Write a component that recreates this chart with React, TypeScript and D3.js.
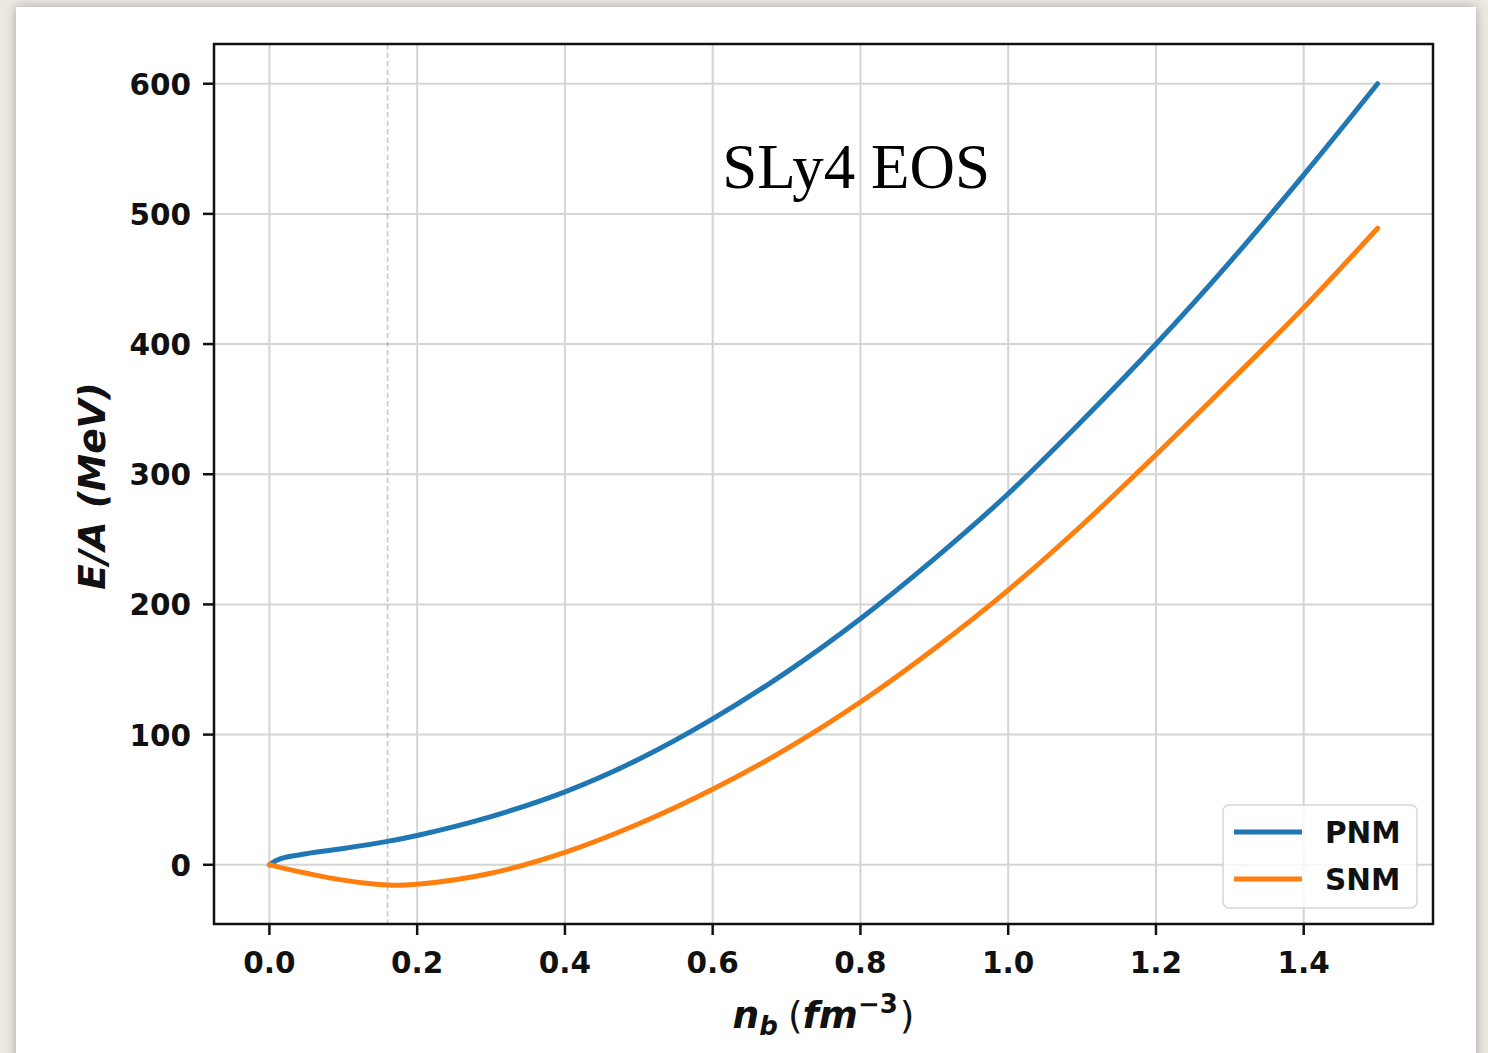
import * as React from "react"
import * as d3 from "d3"

// values
const nb = [0, 0.01, 0.02, 0.05, 0.1, 0.16, 0.2, 0.3, 0.4, 0.5, 0.6, 0.7, 0.8, 0.9, 1.0, 1.1, 1.2, 1.3, 1.4, 1.5]
const pnm = [0, 3.5, 5.5, 8.5, 12.5, 18, 22.5, 37, 56, 81, 112, 148, 189, 235, 285, 341, 400, 463, 530, 600]
const snm = [0, -1.4, -2.8, -6.5, -11.8, -15.6, -15, -6.5, 9.5, 31.5, 58, 89, 125, 166, 211, 261, 315, 371, 428, 489]
const seriesNames = ["PNM", "SNM"]
const seriesColors = ["#1f77b4", "#ff7f0e"]
const xTicks = [0, 0.2, 0.4, 0.6, 0.8, 1.0, 1.2, 1.4]
const yTicks = [0, 100, 200, 300, 400, 500, 600]
const saturation = 0.16

const W = 1488
const H = 1053
const plot = { left: 214, right: 1433, top: 44, bottom: 924 }
const tickFont = "'DejaVu Sans', sans-serif"

function App() {
    const x = d3.scaleLinear().domain([-0.075, 1.575]).range([plot.left, plot.right])
    const y = d3.scaleLinear().domain([-45.5, 630.5]).range([plot.bottom, plot.top])

    const line = d3
        .line<number>()
        .x((d, i) => x(nb[i]))
        .y((d) => y(d))
        .curve(d3.curveCatmullRom.alpha(0.5))

    const series = [pnm, snm]

    return (
        <svg width={W} height={H} style={{ position: "absolute", left: 0, top: 0 }}>
            <defs>
                <filter id="shadow" x="-5%" y="-5%" width="110%" height="110%">
                    <feDropShadow dx="0" dy="0" stdDeviation="6" floodColor="#8a8680" floodOpacity="0.7" />
                </filter>
                <clipPath id="clip">
                    <rect x={plot.left} y={plot.top} width={plot.right - plot.left} height={plot.bottom - plot.top} />
                </clipPath>
            </defs>
            <rect width={W} height={H} fill="#ece9e3" />
            <rect x={16} y={7} width={1460} height={H + 20} fill="#ffffff" filter="url(#shadow)" />

            {/* grid */}
            <g stroke="#d4d4d4" strokeWidth={2}>
                {xTicks.map((t) => (
                    <line key={"gx" + t} x1={x(t)} x2={x(t)} y1={plot.top} y2={plot.bottom} />
                ))}
                {yTicks.map((t) => (
                    <line key={"gy" + t} x1={plot.left} x2={plot.right} y1={y(t)} y2={y(t)} />
                ))}
            </g>

            {/* saturation density */}
            <line
                x1={x(saturation)}
                x2={x(saturation)}
                y1={plot.top}
                y2={plot.bottom}
                stroke="#1f77b4"
                strokeOpacity={0.35}
                strokeWidth={1.6}
                strokeDasharray="5.5,3"
            />

            <g clipPath="url(#clip)">
                {series.map((s, i) => (
                    <path
                        key={seriesNames[i]}
                        d={line(s) || ""}
                        fill="none"
                        stroke={seriesColors[i]}
                        strokeWidth={5}
                        strokeLinecap="round"
                        strokeLinejoin="round"
                    />
                ))}
            </g>

            {/* spines */}
            <rect
                x={plot.left}
                y={plot.top}
                width={plot.right - plot.left}
                height={plot.bottom - plot.top}
                fill="none"
                stroke="#111"
                strokeWidth={2.5}
            />

            {/* x ticks */}
            <g fontFamily={tickFont} fontWeight="bold" fontSize={29.5} fill="#111" textAnchor="middle">
                {xTicks.map((t) => (
                    <g key={"xt" + t}>
                        <line x1={x(t)} x2={x(t)} y1={plot.bottom} y2={plot.bottom + 11} stroke="#111" strokeWidth={2.5} />
                        <text x={x(t)} y={973}>{d3.format(".1f")(t)}</text>
                    </g>
                ))}
            </g>

            {/* y ticks */}
            <g fontFamily={tickFont} fontWeight="bold" fontSize={29.5} fill="#111" textAnchor="end">
                {yTicks.map((t) => (
                    <g key={"yt" + t}>
                        <line x1={plot.left - 11} x2={plot.left} y1={y(t)} y2={y(t)} stroke="#111" strokeWidth={2.5} />
                        <text x={191} y={y(t) + 11}>{t}</text>
                    </g>
                ))}
            </g>

            {/* axis labels */}
            <text
                transform={`translate(105,${(plot.top + plot.bottom) / 2 + 2}) rotate(-90)`}
                textAnchor="middle"
                fontFamily={tickFont}
                fontWeight="bold"
                fontStyle="italic"
                fontSize={37.5}
                fill="#111"
            >
                E/A (MeV)
            </text>
            <text x={(plot.left + plot.right) / 2} y={1028} textAnchor="middle" fontFamily={tickFont} fontSize={37.5} fill="#111">
                <tspan fontWeight="bold" fontStyle="italic">n</tspan>
                <tspan fontWeight="bold" fontStyle="italic" fontSize={26} dy={7}>b</tspan>
                <tspan dy={-7} dx={10}>(</tspan>
                <tspan fontWeight="bold" fontStyle="italic">fm</tspan>
                <tspan fontWeight="bold" fontSize={26} dy={-15}>−3</tspan>
                <tspan dy={15} dx={2}>)</tspan>
            </text>

            {/* annotation */}
            <text x={x(0.613)} y={y(520)} fontFamily="'Liberation Serif', 'Times New Roman', serif" fontSize={63} fill="#000">
                SLy4 EOS
            </text>

            {/* legend */}
            <g>
                <rect x={1223} y={805} width={194} height={103} rx={6} fill="#ffffff" fillOpacity={0.8} stroke="#d6d6d6" strokeWidth={1.5} />
                {seriesNames.map((name, i) => (
                    <g key={"lg" + name}>
                        <line x1={1234} x2={1302} y1={832 + i * 47} y2={832 + i * 47} stroke={seriesColors[i]} strokeWidth={5} />
                        <text x={1325} y={843 + i * 47} fontFamily={tickFont} fontWeight="bold" fontSize={29.5} fill="#111">
                            {name}
                        </text>
                    </g>
                ))}
            </g>
        </svg>
    )
}

export default App
